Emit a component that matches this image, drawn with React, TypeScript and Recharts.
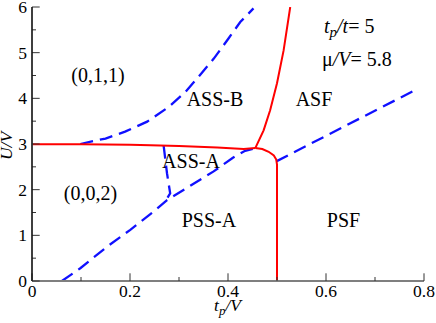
import React from 'react';
import { LineChart, Line, XAxis, YAxis } from 'recharts';

type Pt = { x: number; y: number };

// Axis ticks and labels
const xTicks = [0, 0.1, 0.2, 0.3, 0.4, 0.5, 0.6, 0.7, 0.8];
const xTickLabels = ['0', '', '0.2', '', '0.4', '', '0.6', '', '0.8'];
const yTicks = [0, 0.5, 1, 1.5, 2, 2.5, 3, 3.5, 4, 4.5, 5, 5.5, 6];
const yTickLabels = ['0', '', '1', '', '2', '', '3', '', '4', '', '5', '', '6'];

// Red (solid) phase boundaries
const redLeft: Pt[] = [
  { x: 0, y: 2.995 }, { x: 0.1, y: 2.995 }, { x: 0.2, y: 2.985 }, { x: 0.242, y: 2.975 },
  { x: 0.3, y: 2.955 }, { x: 0.378, y: 2.925 }, { x: 0.432, y: 2.89 }, { x: 0.4557, y: 2.91 },
];
const redUp: Pt[] = [
  { x: 0.4557, y: 2.91 }, { x: 0.4727, y: 3.3 }, { x: 0.486, y: 3.74 }, { x: 0.5, y: 4.33 },
  { x: 0.5135, y: 5.05 }, { x: 0.527, y: 6.0 },
];
const redDown: Pt[] = [
  { x: 0.4557, y: 2.91 }, { x: 0.47, y: 2.89 }, { x: 0.483, y: 2.83 }, { x: 0.4935, y: 2.75 },
  { x: 0.4985, y: 2.66 }, { x: 0.5, y: 2.55 }, { x: 0.5, y: 0 },
];

// Blue (dashed) boundaries
const blueUpper: Pt[] = [
  { x: 0.0986, y: 3.0 }, { x: 0.15, y: 3.12 }, { x: 0.19, y: 3.27 }, { x: 0.235, y: 3.49 },
  { x: 0.279, y: 3.81 }, { x: 0.313, y: 4.14 }, { x: 0.343, y: 4.51 }, { x: 0.371, y: 4.87 },
  { x: 0.401, y: 5.31 }, { x: 0.425, y: 5.67 }, { x: 0.452, y: 5.97 },
];
const blueLower: Pt[] = [
  { x: 0.061, y: 0 }, { x: 0.0986, y: 0.28 }, { x: 0.153, y: 0.75 }, { x: 0.2006, y: 1.12 },
  { x: 0.248, y: 1.52 }, { x: 0.2755, y: 1.77 }, { x: 0.3707, y: 2.4 }, { x: 0.41, y: 2.7 },
  { x: 0.435, y: 2.85 }, { x: 0.4557, y: 2.91 },
];
const blueShort: Pt[] = [
  { x: 0.2687, y: 2.96 }, { x: 0.2755, y: 2.36 }, { x: 0.282, y: 1.92 }, { x: 0.273, y: 1.76 },
];
const blueRight: Pt[] = [
  { x: 0.4985, y: 2.62 }, { x: 0.789, y: 4.22 },
];

const RED = '#ff0000';
const BLUE = '#1010ff';
const FRAME = '#7f7f7f';
const TICK = '#333';
const FAM = "'Liberation Serif'";
const st = (size: number, italic = false): React.CSSProperties => ({
  fontFamily: FAM,
  fontSize: size,
  fontStyle: italic ? 'italic' : 'normal',
});

const BottomTick = (p: any) => {
  const major = p.index % 2 === 0;
  const len = major ? 7.7 : 4;
  return (
    <g>
      <line x1={p.x} y1={p.y} x2={p.x} y2={p.y - len} stroke={TICK} strokeWidth={1} />
      {major && (
        <text x={p.x} y={p.y + 15.5} textAnchor="middle" style={st(17.5)} fill="#000">
          {xTickLabels[p.index]}
        </text>
      )}
    </g>
  );
};
const TopTick = (p: any) => {
  const len = p.index % 2 === 0 ? 7.7 : 4;
  return <line x1={p.x} y1={p.y} x2={p.x} y2={p.y + len} stroke={TICK} strokeWidth={1} />;
};
const LeftTick = (p: any) => {
  const major = p.index % 2 === 0;
  const len = major ? 7.7 : 4;
  return (
    <g>
      <line x1={p.x} y1={p.y} x2={p.x + len} y2={p.y} stroke={TICK} strokeWidth={1} />
      {major && (
        <text x={p.x - 5} y={p.y + 6} textAnchor="end" style={st(17.5)} fill="#000">
          {yTickLabels[p.index]}
        </text>
      )}
    </g>
  );
};
const RightTick = (p: any) => {
  const len = p.index % 2 === 0 ? 7.7 : 4;
  return <line x1={p.x} y1={p.y} x2={p.x - len} y2={p.y} stroke={TICK} strokeWidth={1} />;
};

const lineProps = {
  dataKey: 'y',
  type: 'linear' as const,
  dot: false,
  activeDot: false,
  isAnimationActive: false,
  legendType: 'none' as const,
};

export default function App() {
  return (
    <div style={{ position: 'absolute', left: 0, top: 0, width: 436, height: 323, background: '#fff' }}>
      <LineChart width={436} height={323} margin={{ top: 7, right: 12, bottom: 0, left: 0 }}>
        <XAxis
          type="number"
          dataKey="x"
          domain={[0, 0.8]}
          ticks={xTicks}
          interval={0}
          allowDataOverflow
          height={42}
          tickSize={0}
          tickMargin={0}
          tickLine={false}
          axisLine={{ stroke: FRAME, strokeWidth: 2 }}
          tick={<BottomTick />}
        />
        <XAxis
          xAxisId="top"
          orientation="top"
          type="number"
          dataKey="x"
          domain={[0, 0.8]}
          ticks={xTicks}
          interval={0}
          allowDataOverflow
          height={0}
          tickSize={0}
          tickMargin={0}
          tickLine={false}
          axisLine={{ stroke: FRAME, strokeWidth: 2 }}
          tick={<TopTick />}
        />
        <YAxis
          type="number"
          domain={[0, 6]}
          ticks={yTicks}
          interval={0}
          allowDataOverflow
          width={32}
          tickSize={0}
          tickMargin={0}
          tickLine={false}
          axisLine={{ stroke: FRAME, strokeWidth: 2 }}
          tick={<LeftTick />}
        />
        <YAxis
          yAxisId="right"
          orientation="right"
          type="number"
          domain={[0, 6]}
          ticks={yTicks}
          interval={0}
          allowDataOverflow
          width={0}
          tickSize={0}
          tickMargin={0}
          tickLine={false}
          axisLine={{ stroke: FRAME, strokeWidth: 2 }}
          tick={<RightTick />}
        />
        <Line {...lineProps} data={blueUpper} stroke={BLUE} strokeWidth={2.3} strokeDasharray="13 7" />
        <Line {...lineProps} data={blueLower} stroke={BLUE} strokeWidth={2.3} strokeDasharray="13 7" />
        <Line {...lineProps} data={blueShort} stroke={BLUE} strokeWidth={2.3} strokeDasharray="13 7" />
        <Line {...lineProps} data={blueRight} stroke={BLUE} strokeWidth={2.3} strokeDasharray="13 7" />
        <Line {...lineProps} data={redLeft} stroke={RED} strokeWidth={2} />
        <Line {...lineProps} data={redUp} stroke={RED} strokeWidth={2} />
        <Line {...lineProps} data={redDown} stroke={RED} strokeWidth={2} />
      </LineChart>
      <svg
        width={436}
        height={323}
        style={{ position: 'absolute', left: 0, top: 0, pointerEvents: 'none' }}
      >
        <line x1={32} y1={7} x2={32} y2={281} stroke="#000" strokeWidth={1} />
        <g fill="#000" textAnchor="middle">
          <text x={98} y={82} style={st(20)}>(0,1,1)</text>
          <text x={215} y={106} style={st(20)}>ASS-B</text>
          <text x={314} y={106} style={st(20)}>ASF</text>
          <text x={191} y={168} style={st(20)}>ASS-A</text>
          <text x={90.5} y={200} style={st(20)}>(0,0,2)</text>
          <text x={209} y={226.5} style={st(20)}>PSS-A</text>
          <text x={343.5} y={226.5} style={st(20)}>PSF</text>
        </g>
        <text x={324} y={33} style={st(20)}>
          <tspan style={st(20, true)}>t</tspan>
          <tspan style={st(15, true)} dy={4}>p</tspan>
          <tspan style={st(20, true)} dy={-4}>/t</tspan>
          <tspan style={st(20)}>= 5</tspan>
        </text>
        <text x={322} y={66} style={st(20)}>
          <tspan style={st(20)}>μ</tspan>
          <tspan style={st(20, true)}>/V</tspan>
          <tspan style={st(20)}>= 5.8</tspan>
        </text>
        <text x={227.5} y={311} style={st(17.5)} textAnchor="middle">
          <tspan style={st(17.5, true)}>t</tspan>
          <tspan style={st(13, true)} dy={3.5}>p</tspan>
          <tspan style={st(17.5, true)} dy={-3.5}>/V</tspan>
        </text>
        <text x={0} y={0} style={st(17.5, true)} textAnchor="middle" transform="translate(12,146) rotate(-90)">
          U/V
        </text>
      </svg>
    </div>
  );
}
